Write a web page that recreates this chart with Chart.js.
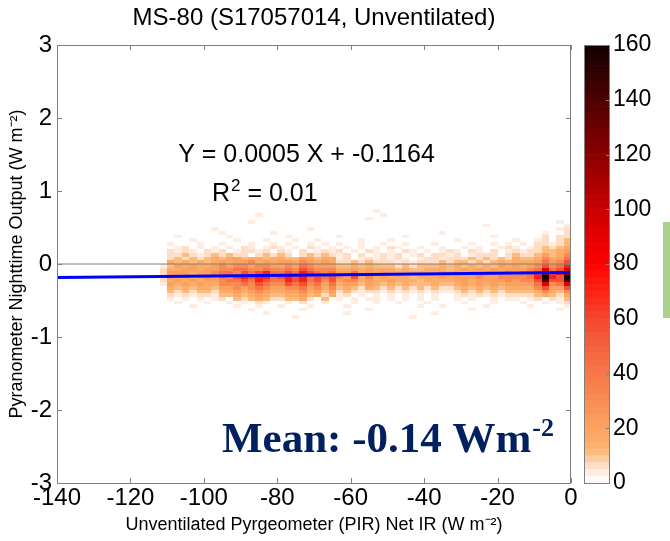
<!DOCTYPE html>
<html><head><meta charset="utf-8">
<script src="https://cdn.jsdelivr.net/npm/chart.js@4.4.0/dist/chart.umd.min.js"></script>
<style>
html,body{margin:0;padding:0;background:#fff;width:670px;height:541px;overflow:hidden}
#wrap{position:relative;width:670px;height:541px}
canvas{position:absolute;left:0;top:0}
#green{position:absolute;left:663px;top:222px;width:7px;height:96px;background:#a9d18e}
</style></head><body>
<div id="wrap"><canvas id="main" width="670" height="541"></canvas><canvas id="cbar" width="670" height="541"></canvas><div id="green"></div></div>
<script>
// ---------- data ----------
const titleText = 'MS-80 (S17057014, Unventilated)';
const xTitle = 'Unventilated Pyrgeometer (PIR) Net IR (W m\u207B\u00B2)';
const yTitle = 'Pyranometer Nighttime Output (W m\u207B\u00B2)';
const xRange = [-140, 0];
const yRange = [-3, 3];
const cbarRange = [0, 160];
const fitX = [-140, 0];
const fitY = [-0.186, -0.116];
const zeroX = [-140, 0];
const zeroY = [0, 0];
const eqText = 'Y = 0.0005 X + -0.1164';
const r2Text = ['R', '2', ' = 0.01'];
const meanText = ['Mean: -0.14 Wm', '-2'];
// 2-D histogram: columns of 2 W m-2 starting at -112, rows of 0.05 starting at +0.75 going down
const binX0 = -112, binDX = 2;
const binYTop = 0.75, binDY = 0.05;
const countLevels = {'.':0,'1':3,'2':7,'3':11,'4':16,'5':22,'6':30,'7':40,'8':55,'9':70,'a':90,'b':115,'c':145,'d':160};
const heatRows = [
 ["........","........","........",".....1..","........","........","........"],
 ["........",".....1..","........","......1.","........","........","........"],
 ["........","........","........","....1...","........","........","........"],
 ["........","....1...","........","........","........","........","......1."],
 ["........","........","........","........","........","....1...",".......1"],
 [".......1","........","....1...","........","........","........","......12"],
 ["........","1......1","........","........","......1.","........","....1..2"],
 ["..1.....",".1......",".1......","1.......",".1......",".....1..","....2.22"],
 ["....1...","..1...1.","..1..1..","...1...1","........","1.......","1..12.23"],
 [".1...1..","1...1..1",".1..1.1.","1..1..1.",".1...1..","..1..1.1",".1.22123"],
 ["..12.1.1",".1.21.12","1.1.21.1",".1.1.1.2","1..1..1.",".1.1..12","1.123234"],
 [".2121.21","2.12212.","21.2.121","2.1.21.1",".21.1.12","1.21.2.1","21223345"],
 [".2232123","2322.232","32.23232","12.2.121","2.12.221","2.1222.2","32235346"],
 [".2323234","34534434","43354344","12.12121","21.12212","22323232","43346457"],
 [".4343434","54556454","55465454","22323222","12122232","33232343","44457568"],
 ["13545445","65665665","56576555","33434333","23233343","43434354","54568679"],
 ["24455455","66776676","67687666","44545444","34334443","45454545","5567a78a"],
 ["25554556","77687897","78798767","55745454","44444454","54545556","5668b89b"],
 ["25454565","76898997","89897878","65846454","44344454","55565566","6679d98d"],
 ["24545455","67787987","79897868","56645445","44434444","55455556","5668c88c"],
 ["15454544","66676876","68786757","45535434","34333433","45454545","5557a67a"],
 [".4343443","55656765","56675646","34324323","23232322","34343434","44468558"],
 [".3232332","44545654","45564535","23212212","12121211","23232323","33346436"],
 [".2121221","33434543","34453424","12.1.1.1",".1.1.1..","12121212","22234324"],
 [".1.1.1.1","2.323432","23342.3.","1.1.11.1",".1.1.1..","1.1..1.1","1.12.213"],
 ["..1...1.",".1.1.21.",".1.2..1.","..1..1..","1...1...",".1...1..",".1..1.12"],
 ["....1...","..1..1..","1...1...",".1......","...1..1.","....1...","..1....1"],
 ["........","....1...","...1....","....1...","........","..1.....","......1."],
 ["........","......1.","........",".1......",".....1..","........","........"],
 ["........","........","..1.....","........","..1.....","........","........"]
].map(g => g.join(''));

// ---------- colour map (style) ----------
const colorStops = [[0,'#ffffff'],[2.5,'#fff4ee'],[5,'#fee6d6'],[7.5,'#fdd6b8'],[10,'#fdc28c'],[12.5,'#fcb470'],
 [20,'#fca361'],[30,'#f98d52'],[40,'#f77649'],[50,'#f5613f'],[60,'#f54530'],[70,'#fc2414'],[80,'#ff0000'],
 [90,'#e40000'],[100,'#c80000'],[110,'#aa0000'],[120,'#8a0000'],[130,'#6c0000'],[140,'#4e0000'],[150,'#300000'],[160,'#120000']];
function hex2rgb(h){return [parseInt(h.slice(1,3),16),parseInt(h.slice(3,5),16),parseInt(h.slice(5,7),16)];}
function mapColor(v){
  for(let i=1;i<colorStops.length;i++){
    if(v<=colorStops[i][0]){
      const [v0,c0]=colorStops[i-1],[v1,c1]=colorStops[i];
      const t=(v-v0)/(v1-v0), a=hex2rgb(c0), b=hex2rgb(c1);
      return 'rgb('+a.map((q,k)=>Math.round(q+(b[k]-q)*t)).join(',')+')';
    }
  }
  return colorStops[colorStops.length-1][1];
}
const NSTEP = 64, STEP = (cbarRange[1]-cbarRange[0])/NSTEP;
function colorFor(n){const idx=Math.min(NSTEP-1,Math.floor(n/STEP));return mapColor((idx+0.5)*STEP);}

const FONT = '"Liberation Sans", Arial, sans-serif';
const SERIF = '"Liberation Serif", "Times New Roman", serif';
const FRAME = '#7f7f7f';

// ---------- plugins ----------
const heatPlugin = {
  id:'heat',
  beforeDatasetsDraw(chart){
    const {ctx, chartArea:ca, scales:{x,y}} = chart;
    ctx.save();
    ctx.beginPath(); ctx.rect(ca.left, ca.top, ca.width, ca.height); ctx.clip();
    heatRows.forEach((row,r)=>{
      const yHi = binYTop - r*binDY, yLo = yHi - binDY;
      const py1 = Math.round(y.getPixelForValue(yHi)), py2 = Math.round(y.getPixelForValue(yLo));
      for(let c=0;c<row.length;c++){
        const n = countLevels[row[c]];
        if(!n) continue;
        const xl = binX0 + c*binDX;
        const px1 = Math.round(x.getPixelForValue(xl)), px2 = Math.round(x.getPixelForValue(xl+binDX));
        ctx.fillStyle = colorFor(n);
        ctx.fillRect(px1, py1, px2-px1, py2-py1);
      }
    });
    ctx.restore();
  }
};
const framePlugin = {
  id:'frame',
  afterDatasetsDraw(chart){
    const {ctx, chartArea:ca, scales:{x,y}} = chart;
    ctx.save();
    ctx.strokeStyle = FRAME; ctx.lineWidth = 1;
    ctx.strokeRect(Math.round(ca.left)+0.5, Math.round(ca.top)+0.5, Math.round(ca.width)-1, Math.round(ca.height));
    ctx.beginPath();
    x.ticks.forEach(t=>{const p=Math.round(x.getPixelForValue(t.value))+0.5;
      ctx.moveTo(p,ca.bottom); ctx.lineTo(p,ca.bottom-5); ctx.moveTo(p,ca.top); ctx.lineTo(p,ca.top+5);});
    y.ticks.forEach(t=>{const p=Math.round(y.getPixelForValue(t.value))+0.5;
      ctx.moveTo(ca.left,p); ctx.lineTo(ca.left+5,p); ctx.moveTo(ca.right,p); ctx.lineTo(ca.right-5,p);});
    ctx.stroke();
    ctx.restore();
  },
  afterDraw(chart){
    const {ctx, scales:{x,y}} = chart;
    const o = chart.options.plugins.frame;
    ctx.save();
    ctx.fillStyle = '#000'; ctx.textBaseline = 'alphabetic'; ctx.textAlign = 'left';
    ctx.font = '25px '+FONT;
    ctx.fillText(eqText, x.getPixelForValue(o.eqAt[0]), y.getPixelForValue(o.eqAt[1]));
    let px = x.getPixelForValue(o.r2At[0]), py = y.getPixelForValue(o.r2At[1]);
    ctx.fillText(r2Text[0], px, py); px += ctx.measureText(r2Text[0]).width;
    ctx.font = '17px '+FONT; ctx.fillText(r2Text[1], px+1, py-10); px += ctx.measureText(r2Text[1]).width+1;
    ctx.font = '25px '+FONT; ctx.fillText(r2Text[2], px, py);
    ctx.fillStyle = '#002060';
    px = x.getPixelForValue(o.meanAt[0]); py = y.getPixelForValue(o.meanAt[1]);
    ctx.font = 'bold 43px '+SERIF; ctx.fillText(meanText[0], px, py); px += ctx.measureText(meanText[0]).width;
    ctx.font = 'bold 26px '+SERIF; ctx.fillText(meanText[1], px+1, py-16);
    ctx.restore();
  }
};

const main = new Chart(document.getElementById('main'), {
  type:'scatter',
  data:{datasets:[
    {data: zeroX.map((v,i)=>({x:v,y:zeroY[i]})), showLine:true, borderColor:'#808080', borderWidth:1, pointRadius:0},
    {data: fitX.map((v,i)=>({x:v,y:fitY[i]})), showLine:true, borderColor:'#0000ff', borderWidth:3, pointRadius:0}
  ]},
  options:{
    responsive:false, animation:false, devicePixelRatio:1,
    layout:{padding:{left:0,right:99,top:0,bottom:0}},
    plugins:{
      legend:{display:false}, tooltip:{enabled:false},
      title:{display:true, fullSize:false, text:titleText, color:'#000', font:{family:FONT,size:24,weight:'normal'}, padding:{top:4,bottom:12.2}},
      frame:{eqAt:[-107,1.40], r2At:[-97.8,0.863], meanAt:[-95.05,-2.575]}
    },
    scales:{
      x:{type:'linear', min:xRange[0], max:xRange[1],
        ticks:{stepSize:20, color:'#000', font:{family:FONT,size:24}, padding:1, maxRotation:0},
        grid:{display:false, drawTicks:false}, border:{display:false},
        title:{display:true, text:xTitle, color:'#000', font:{family:FONT,size:18}, padding:{top:0,bottom:5}},
        afterFit(s){s.height=58;}},
      y:{type:'linear', min:yRange[0], max:yRange[1],
        ticks:{stepSize:1, color:'#000', font:{family:FONT,size:24}, padding:5},
        grid:{display:false, drawTicks:false}, border:{display:false},
        title:{display:true, text:yTitle, color:'#000', font:{family:FONT,size:18}, padding:{top:6,bottom:0}},
        afterFit(s){s.width=57;}}
    }
  },
  plugins:[heatPlugin, framePlugin]
});

// ---------- colour bar ----------
const cbarSteps = Array.from({length:NSTEP},(_,i)=>i);
const cbarFrame = {
  id:'cbframe',
  afterDatasetsDraw(chart){
    const {ctx, chartArea:ca, scales:{y}} = chart;
    ctx.save(); ctx.strokeStyle = FRAME; ctx.lineWidth = 1;
    ctx.strokeRect(Math.round(ca.left)+0.5, Math.round(ca.top)+0.5, Math.round(ca.width)-1, Math.round(ca.height));
    ctx.beginPath();
    y.ticks.forEach(t=>{const p=Math.round(y.getPixelForValue(t.value))+0.5; ctx.moveTo(ca.right-1,p); ctx.lineTo(ca.right-4,p);});
    ctx.stroke(); ctx.restore();
  }
};
new Chart(document.getElementById('cbar'), {
  type:'bar',
  data:{labels:['c'], datasets: cbarSteps.map(i=>({data:[STEP], backgroundColor:mapColor((i+0.5)*STEP), borderWidth:0, stack:'s', barPercentage:1, categoryPercentage:1}))},
  options:{
    responsive:false, animation:false, devicePixelRatio:1,
    layout:{padding:{left:584,top:45,bottom:58,right:0}},
    plugins:{legend:{display:false}, tooltip:{enabled:false}},
    scales:{
      x:{display:false, stacked:true},
      y:{position:'right', stacked:true, min:cbarRange[0], max:cbarRange[1],
        ticks:{stepSize:20, color:'#000', font:{family:FONT,size:23}, padding:3},
        grid:{display:false, drawTicks:false}, border:{display:false},
        afterFit(s){s.width=60;}}
    }
  },
  plugins:[cbarFrame]
});
</script></body></html>
